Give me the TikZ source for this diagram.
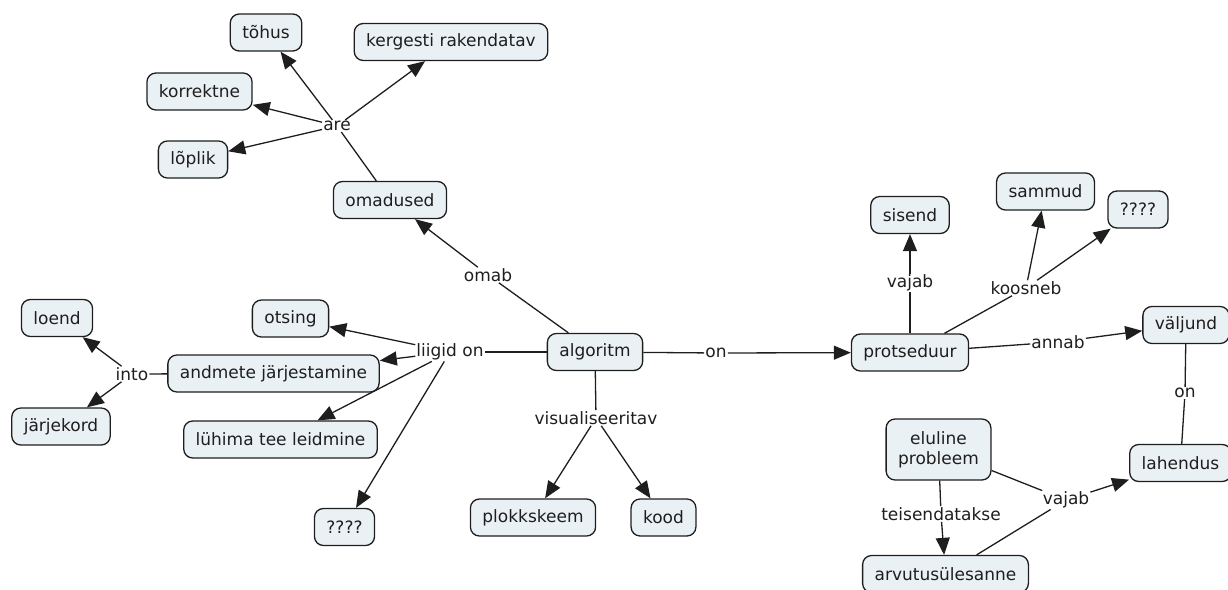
\documentclass[tikz,border=0pt]{standalone}
\usepackage{fontspec}
\setmainfont{DejaVu Sans}
\usetikzlibrary{arrows.meta}
\definecolor{boxfill}{RGB}{234,241,244}
\definecolor{ink}{RGB}{30,30,30}
\begin{document}
\begin{tikzpicture}[x=1pt,y=-1pt,
 box/.style={draw=ink, line width=1.3pt, fill=boxfill, rounded corners=9pt, inner xsep=12pt, inner ysep=8pt, minimum height=37pt, font=\fontsize{17}{20}\selectfont, text=ink, align=center},
 lbl/.style={inner sep=1pt, font=\fontsize{17}{20}\selectfont, text=ink},
 conn/.style={draw=ink, line width=1.3pt},
 arr/.style={conn, -{Triangle[length=17pt,width=14pt]}},
]
\useasboundingbox (0,0) rectangle (1228,589);
% concepts
\node[box] (tohus) at (266,32.5) {tõhus};
\node[box] (kergesti) at (451,42) {kergesti rakendatav};
\node[box] (korrektne) at (199.5,91.5) {korrektne};
\node[box] (loplik) at (193,159.5) {lõplik};
\node[box] (omadused) at (390,200) {omadused};
\node[box] (algoritm) at (595,352) {algoritm};
\node[box] (otsing) at (290.5,318.5) {otsing};
\node[box] (andmete) at (273.5,373.5) {andmete järjestamine};
\node[box] (luhima) at (280.5,439.5) {lühima tee leidmine};
\node[box] (qa) at (344.5,527) {????};
\node[box] (loend) at (57,318) {loend};
\node[box] (jarjekord) at (61,426.5) {järjekord};
\node[box] (plokkskeem) at (533,517.5) {plokkskeem};
\node[box] (kood) at (663.5,517.5) {kood};
\node[box] (protseduur) at (910,352.5) {protseduur};
\node[box] (sisend) at (910,215) {sisend};
\node[box] (sammud) at (1045.5,191.5) {sammud};
\node[box] (qb) at (1138,209.5) {????};
\node[box] (valjund) at (1186,325) {väljund};
\node[box] (lahendus) at (1180.5,463) {lahendus};
\node[box, minimum height=61pt] (eluline) at (938.5,449.5) {eluline\\probleem};
\node[box] (arvutus) at (945.5,574) {arvutusülesanne};
% linking phrases
\node[lbl] (are) at (337,126) {are};
\node[lbl] (omab) at (488,275) {omab};
\node[lbl] (liigid) at (450,352) {liigid on};
\node[lbl] (into) at (132,374) {into};
\node[lbl] (visual) at (596,418) {visualiseeritav};
\node[lbl] (on1) at (716,353) {on};
\node[lbl] (vajab1) at (910,283) {vajab};
\node[lbl] (koosneb) at (1026,288) {koosneb};
\node[lbl] (annab) at (1058,342) {annab};
\node[lbl] (on2) at (1185,393) {on};
\node[lbl] (vajab2) at (1066,500) {vajab};
\node[lbl] (teisend) at (941,514) {teisendatakse};
% connectors
\draw[conn] (omadused) -- (are);
\draw[arr] (are) -- (tohus);
\draw[arr] (are) -- (kergesti);
\draw[arr] (are) -- (korrektne);
\draw[arr] (are) -- (loplik);
\draw[conn] (algoritm) -- (omab);
\draw[arr] (omab) -- (omadused);
\draw[conn] (algoritm) -- (liigid);
\draw[arr] (liigid) -- (otsing);
\draw[arr] (liigid) -- (andmete);
\draw[arr] (liigid) -- (luhima);
\draw[arr] (liigid) -- (qa);
\draw[conn] (andmete) -- (into);
\draw[arr] (into) -- (loend);
\draw[arr] (into) -- (jarjekord);
\draw[conn] (algoritm) -- (visual);
\draw[arr] (visual) -- (plokkskeem);
\draw[arr] (visual) -- (kood);
\draw[conn] (algoritm) -- (on1);
\draw[arr] (on1) -- (protseduur);
\draw[conn] (protseduur) -- (vajab1);
\draw[arr] (vajab1) -- (sisend);
\draw[conn] (protseduur) -- (koosneb);
\draw[arr] (koosneb) -- (sammud);
\draw[arr] (koosneb) -- (qb);
\draw[conn] (protseduur) -- (annab);
\draw[arr] (annab) -- (valjund);
\draw[conn] (valjund) -- (on2);
\draw[conn] (on2) -- (lahendus);
\draw[conn] (eluline) -- (teisend);
\draw[arr] (teisend) -- (arvutus);
\draw[conn] (eluline) -- (vajab2);
\draw[conn] (arvutus) -- (vajab2);
\draw[arr] (vajab2) -- (lahendus);
\end{tikzpicture}
\end{document}
